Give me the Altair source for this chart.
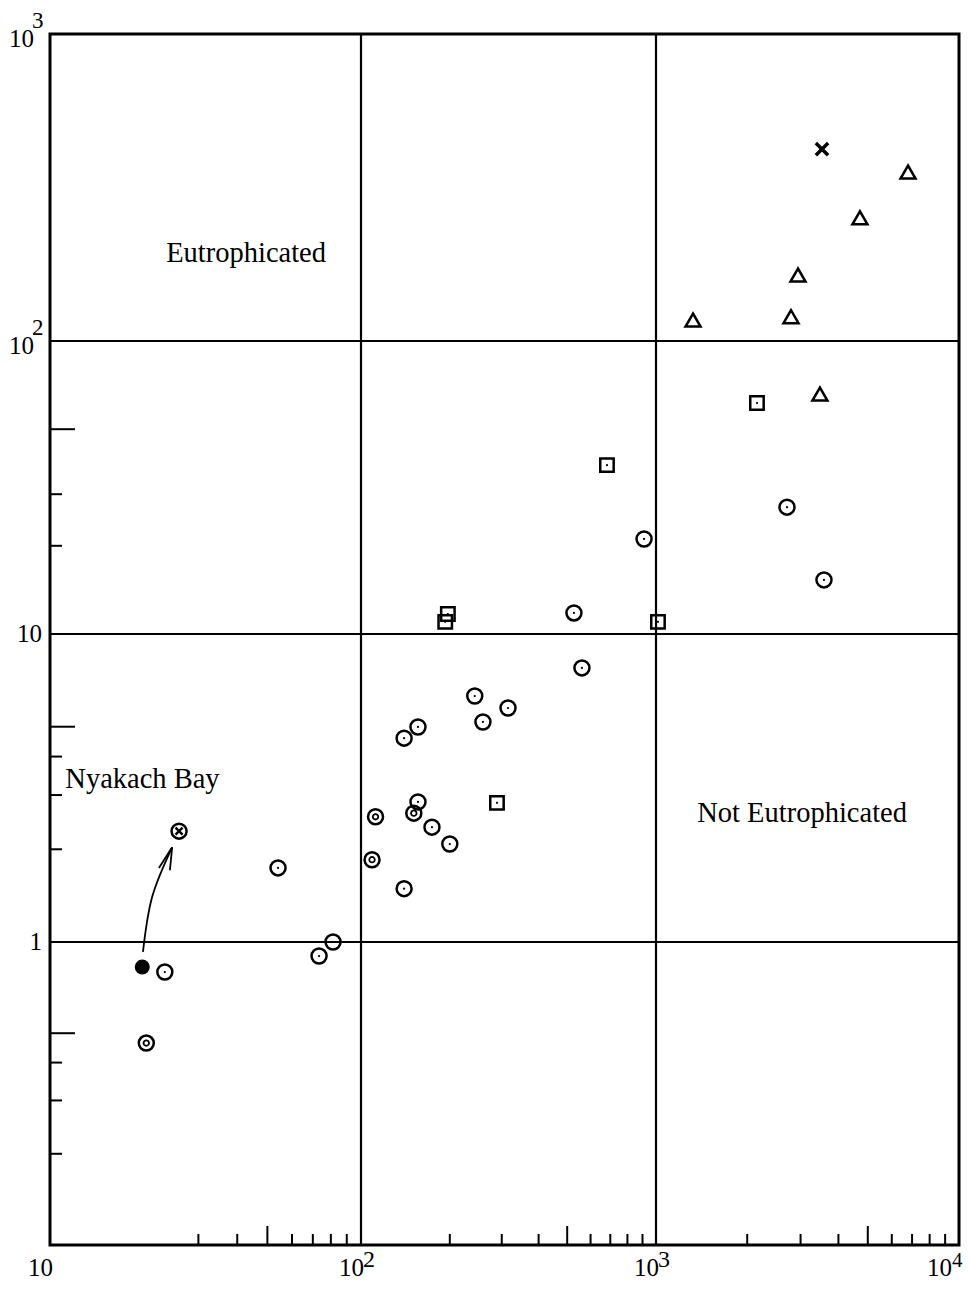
import altair as alt
import pandas as pd

# ---------------- data ----------------
tri_x = [1325, 2790, 2942, 4710, 6789, 3475]
tri_y = [117, 120, 164, 252, 355, 65.9]

cross_x = [3530]
cross_y = [422]

sq_x = [2154, 682, 197, 193, 1015, 289]
sq_y = [61.4, 37.7, 11.7, 11.0, 11.0, 2.83]

dot_x = [2706, 911, 3584, 527, 561, 243, 315, 259, 156, 140, 156, 174, 200, 140, 54.1, 73.3, 81.3, 23.4]
dot_y = [27.1, 21.1, 15.3, 11.8, 7.76, 6.29, 5.75, 5.18, 4.99, 4.59, 2.85, 2.36, 2.08, 1.49, 1.74, 0.899, 1.0, 0.796]

ring_x = [112, 151, 109, 20.4]
ring_y = [2.55, 2.62, 1.85, 0.464]

filled_x = [19.8]
filled_y = [0.827]

circx_x = [26.0]
circx_y = [2.29]

arrow_x = [19.9, 21.3, 24.7]
arrow_y = [0.927, 1.40, 2.03]
head_x = [22.4, 24.3]
head_y = [1.74, 1.71]
head_x2 = [24.7, 24.7]
head_y2 = [2.03, 2.03]

grid_x = [100, 1000]
grid_y = [1, 10, 100]

xt_short = [30, 40, 60, 70, 80, 90, 200, 300, 400, 600, 700, 800, 900,
            2000, 3000, 4000, 6000, 7000, 8000, 9000]
xt_long = [50, 500, 5000]
yt_short = [0.2, 0.3, 0.4, 2, 3, 4, 20, 30]
yt_long = [0.5, 5, 50]

xlab_vals = [10, 100, 1000]
xlab_text = ["10", "10", "10"]
xexp_vals = [100, 1000]
xexp_text = ["2", "3"]
xlast_val = [10000]
xlast_text = ["10"]
xlast_exp = ["4"]

ylab_dec_vals = [1000, 100]
ylab_dec_text = ["10", "10"]
yexp_text = ["3", "2"]
ylab_plain_vals = [10, 1]
ylab_plain_text = ["10", "1"]

region_labels = ["Eutrophicated", "Not Eutrophicated"]
region_x = [42.7, 3035]
region_y = [181, 2.45]
nyakach_label = ["Nyakach Bay"]
nyakach_x = [11.2]
nyakach_y = [3.16]

# ---------------- scales ----------------
W, H = 909, 1211
xs = alt.Scale(type="log", domain=[10, 100, 1000, 10000], range=[0, 311, 606, 909], nice=False)
ys = alt.Scale(type="log", domain=[0.1, 1, 10, 100, 1000], range=[1211, 908, 600, 307, 0], nice=False)
FONT = "Liberation Serif"


def X(f="x"):
    return alt.X(f"{f}:Q", scale=xs, axis=None)


def Y(f="y"):
    return alt.Y(f"{f}:Q", scale=ys, axis=None)


def df(xv, yv):
    return pd.DataFrame({"x": xv, "y": yv})


def points(xv, yv, **kw):
    return alt.Chart(df(xv, yv)).mark_point(color="black", opacity=1, **kw).encode(x=X(), y=Y())


def xtext(vals, texts, yoff, size, align, dx):
    return (alt.Chart(pd.DataFrame({"x": vals, "t": texts}))
            .mark_text(font=FONT, fontSize=size, color="black", align=align, baseline="alphabetic", dx=dx)
            .encode(x=X(), y=alt.value(H + yoff), text="t:N"))


layers = []

# gridlines
layers.append(alt.Chart(pd.DataFrame({"x": grid_x})).mark_rule(color="black", strokeWidth=2.2)
              .encode(x=X(), y=alt.value(0), y2=alt.value(H)))
layers.append(alt.Chart(pd.DataFrame({"y": grid_y})).mark_rule(color="black", strokeWidth=2.2)
              .encode(y=Y(), x=alt.value(0), x2=alt.value(W)))

# minor ticks (inside)
layers.append(alt.Chart(pd.DataFrame({"x": xt_short})).mark_rule(color="black", strokeWidth=2)
              .encode(x=X(), y=alt.value(H), y2=alt.value(H - 11)))
layers.append(alt.Chart(pd.DataFrame({"x": xt_long})).mark_rule(color="black", strokeWidth=2)
              .encode(x=X(), y=alt.value(H), y2=alt.value(H - 19)))
layers.append(alt.Chart(pd.DataFrame({"y": yt_short})).mark_rule(color="black", strokeWidth=2)
              .encode(y=Y(), x=alt.value(0), x2=alt.value(12)))
layers.append(alt.Chart(pd.DataFrame({"y": yt_long})).mark_rule(color="black", strokeWidth=2)
              .encode(y=Y(), x=alt.value(0), x2=alt.value(25)))

# markers
layers.append(points(tri_x, tri_y, shape="triangle-up", filled=False, size=225, strokeWidth=2.5))
layers.append(points(cross_x, cross_y, shape="M-1,-1L1,1M-1,1L1,-1", filled=False, size=150, strokeWidth=3.5))
layers.append(points(sq_x, sq_y, shape="square", filled=False, size=180, strokeWidth=2.5))
layers.append(points(sq_x, sq_y, shape="circle", filled=True, size=5))
layers.append(points(dot_x, dot_y, shape="circle", filled=False, size=225, strokeWidth=2.5))
layers.append(points(dot_x, dot_y, shape="circle", filled=True, size=5))
layers.append(points(ring_x, ring_y, shape="circle", filled=False, size=225, strokeWidth=2.5))
layers.append(points(ring_x, ring_y, shape="circle", filled=False, size=30, strokeWidth=1.8))
layers.append(points(filled_x, filled_y, shape="circle", filled=True, size=225))
layers.append(points(circx_x, circx_y, shape="circle", filled=False, size=225, strokeWidth=2.5))
layers.append(points(circx_x, circx_y, shape="M-1,-1L1,1M-1,1L1,-1", filled=False, size=50, strokeWidth=2.4))

# arrow
layers.append(alt.Chart(df(arrow_x, arrow_y)).mark_line(color="black", strokeWidth=1.8, interpolate="natural")
              .encode(x=X(), y=Y()))
layers.append(alt.Chart(pd.DataFrame({"x": head_x, "y": head_y, "x2": head_x2, "y2": head_y2}))
              .mark_rule(color="black", strokeWidth=1.8)
              .encode(x=X(), y=Y(), x2="x2:Q", y2="y2:Q"))

# region annotations
layers.append(alt.Chart(pd.DataFrame({"x": region_x, "y": region_y, "t": region_labels}))
              .mark_text(font=FONT, fontSize=28.5, color="black", align="center", baseline="alphabetic")
              .encode(x=X(), y=Y(), text="t:N"))
layers.append(alt.Chart(pd.DataFrame({"x": nyakach_x, "y": nyakach_y, "t": nyakach_label}))
              .mark_text(font=FONT, fontSize=28.5, color="black", align="left", baseline="alphabetic")
              .encode(x=X(), y=Y(), text="t:N"))

# bottom axis labels
layers.append(xtext(xlab_vals, xlab_text, 31, 25, "right", 3))
layers.append(xtext(xexp_vals, xexp_text, 22, 24, "left", 2))
layers.append(xtext(xlast_val, xlast_text, 31, 25, "right", -7))
layers.append(xtext(xlast_val, xlast_exp, 22, 21, "left", -7))

# left axis labels
layers.append(alt.Chart(pd.DataFrame({"y": ylab_dec_vals, "t": ylab_dec_text}))
              .mark_text(font=FONT, fontSize=25, color="black", align="right", baseline="middle", dy=5)
              .encode(y=Y(), x=alt.value(-16), text="t:N"))
layers.append(alt.Chart(pd.DataFrame({"y": ylab_dec_vals, "t": yexp_text}))
              .mark_text(font=FONT, fontSize=23, color="black", align="left", baseline="middle", dy=-13)
              .encode(y=Y(), x=alt.value(-18), text="t:N"))
layers.append(alt.Chart(pd.DataFrame({"y": ylab_plain_vals, "t": ylab_plain_text}))
              .mark_text(font=FONT, fontSize=25, color="black", align="right", baseline="middle", dy=0)
              .encode(y=Y(), x=alt.value(-8), text="t:N"))

chart = (
    alt.layer(*layers)
    .properties(
        width=W,
        height=H,
        padding={"left": 42, "top": 26, "right": 4, "bottom": 37},
        autosize=alt.AutoSizeParams(type="none"),
        background="white",
    )
    .configure_view(stroke="black", strokeWidth=3)
)

chart.save("out.html", embed_options={"renderer": "svg", "actions": False})
